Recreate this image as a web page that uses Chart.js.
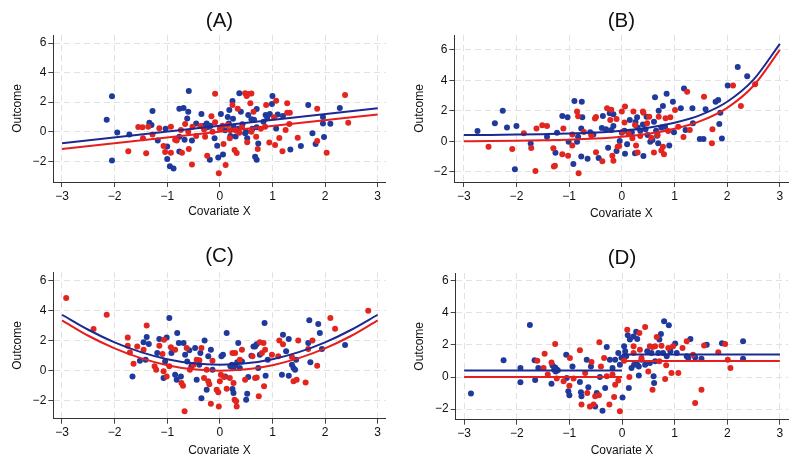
<!DOCTYPE html>
<html lang="en">

<head>
    <meta charset="UTF-8" />
    <title>Outcome vs Covariate X</title>
    <script src="https://cdn.jsdelivr.net/npm/chart.js"></script>
    <style>
        body {
            margin: 0;
            background: #fff;
        }

        #wrap {
            position: relative;
            width: 800px;
            height: 466px;
        }

        #wrap canvas {
            position: absolute;
        }
    </style>
</head>

<body>
    <div id="wrap">
        <canvas id="panelA" width="400" height="233" style="left:0;top:0"></canvas>
        <canvas id="panelB" width="400" height="233" style="left:400px;top:0"></canvas>
        <canvas id="panelC" width="400" height="233" style="left:0;top:233px"></canvas>
        <canvas id="panelD" width="400" height="233" style="left:400px;top:233px"></canvas>
    </div>

    <script>
        // tick labels
        const xTicks = [-3, -2, -1, 0, 1, 2, 3];
        const yTicks = [-2, 0, 2, 4, 6];

        // (A) linear
        const aBlueX = [-2.15, -2.05, -2.05, -1.95, -1.72, -1.34, -1.28, -1.3, -1.18, -1.03, -1.0, -1.0, -0.95, -0.88, -0.77, -0.69, -0.59, -0.62, -0.77, -0.77, -0.67, -0.53, -0.45, -0.35, -0.3, -0.24, -0.2, -0.18, -0.19, -0.1, -0.05, -0.03, 0.02, 0.06, 0.15, 0.18, 0.24, 0.25, 0.26, 0.3, 0.37, 0.4, 0.43, 0.48, 0.52, 0.54, 0.6, 0.65, 0.7, 0.67, 0.7, 0.73, 0.7, 0.83, 0.87, 0.9, 0.99, 1.0, 1.07, 1.1, 1.2, 1.34, 1.54, 1.68, 1.76, 1.82, 1.96, 1.96, 1.98, 2.1, 2.28, 0.1, 0.35, 0.5, -0.25, 0.62, 0.2, 0.95, -0.6, 0.17];
        const aBlueY = [0.8, 2.4, -1.95, -0.05, -0.2, 0.6, 1.4, 0.45, -0.6, 0.2, -1.0, -1.85, -2.35, -2.5, 1.55, 1.6, 2.75, 0.9, -1.35, -0.35, -0.55, -0.6, 0.55, 1.2, 0.4, 0.3, 0.35, 0.4, -1.9, -0.45, -0.95, -1.75, 1.2, -1.55, 1.0, 1.47, 2.08, 0.88, 0.34, -0.33, 2.6, 1.35, 0.5, -0.1, -0.45, 1.13, 0.85, 0.8, 0.3, -1.7, -1.9, -0.8, 1.53, 0.68, 1.13, 0.95, 1.87, 2.42, 0.22, 1.17, 1.06, -1.2, -0.97, 1.8, -0.1, -0.84, 1.0, 0.56, -0.36, 0.54, 1.6, 0.1, 0.2, 0.0, 0.55, 0.2, -0.3, 1.2, 1.35, 0.55];
        const aRedX = [-1.74, -1.55, -1.47, -1.46, -1.4, -1.36, -1.28, -1.15, -1.07, -1.04, -0.93, -0.93, -0.85, -0.82, -0.74, -0.72, -0.66, -0.59, -0.53, -0.52, -0.37, -0.28, -0.24, -0.16, -0.14, -0.09, -0.09, -0.02, 0.07, 0.11, 0.15, 0.19, 0.24, 0.28, 0.32, 0.34, 0.37, 0.48, 0.51, 0.54, 0.6, 0.58, 0.52, 0.64, 0.69, 0.72, 0.88, 0.86, 0.94, 1.03, 1.05, 1.07, 1.13, 1.19, 1.25, 1.28, 1.28, 1.33, 1.32, 1.48, 1.85, 1.85, 2.03, 2.38, 2.44, -0.6, -0.45, 0.0, 0.2, 0.42, 0.6, 0.78, -0.3, 0.05, 0.3];
        const aRedY = [-1.33, 0.32, 0.3, -0.45, -1.47, 0.34, -0.2, 0.23, -0.97, -1.38, 0.34, -1.42, -0.55, -0.6, 0.11, -1.42, 0.52, -1.17, -2.23, 0.34, 0.38, -0.34, -1.63, 1.04, 0.0, 0.63, 2.57, -2.82, -0.84, -2.26, 0.45, -0.45, 1.8, -1.25, -1.45, 1.55, -0.07, 2.6, 2.42, 2.55, 2.58, 1.92, -0.72, 1.35, -0.34, -1.17, 1.8, 0.34, -0.74, 0.97, -0.9, 2.1, -0.43, -1.33, 0.11, 1.92, 1.29, 1.29, 0.52, -0.41, 1.56, -0.63, -1.42, 2.48, 0.61, 0.0, -0.3, 0.2, 0.1, 0.3, 0.0, 0.2, 0.15, 0.4, 0.1];
        const aFitX = [-3, 3];
        const aFitBlue = [-0.78, 1.58];
        const aFitRed = [-1.17, 1.17];

        // (B) exponential
        const bBlueX = [-2.74, -2.41, -2.26, -2.18, -2.0, -2.03, -1.73, -1.42, -1.26, -1.23, -1.13, -1.03, -1.01, -0.92, -0.9, -0.85, -0.83, -0.76, -0.77, -0.75, -0.77, -0.65, -0.54, -0.44, -0.38, -0.36, -0.3, -0.26, -0.23, -0.16, -0.16, -0.1, -0.04, 0.0, 0.06, 0.1, 0.15, 0.19, 0.25, 0.26, 0.29, 0.35, 0.41, 0.47, 0.49, 0.54, 0.58, 0.61, 0.63, 0.67, 0.7, 0.69, 0.78, 0.82, 0.85, 0.9, 0.97, 0.99, 1.12, 1.18, 1.21, 1.34, 1.35, 1.48, 1.55, 1.59, 1.78, 1.83, 1.85, 1.87, 1.9, 2.01, 2.2, 2.38, -0.6, -0.2, 0.05, 0.3, 0.45, 0.65, 0.75, 0.4];
        const bBlueY = [0.68, 1.18, 2.01, 0.9, 1.0, -1.84, -0.15, 0.3, -0.75, 0.57, 1.66, 1.58, -0.02, -1.49, 2.65, -0.02, 0.3, 2.6, 0.85, 1.58, -0.99, -1.14, 0.44, -1.09, 0.88, 1.66, 0.8, -0.42, 1.84, 1.77, 1.0, -0.64, 0.02, 0.57, -0.81, -0.2, 1.4, 0.59, -0.79, 1.27, 1.58, 0.7, -0.96, 1.62, 0.42, -0.02, 0.09, 1.29, 2.89, 0.37, 2.0, -0.13, 2.32, 0.96, 3.13, -0.28, 2.6, 0.59, 2.17, 3.46, 0.74, 2.17, 1.18, 0.15, 0.15, 2.1, 2.6, 2.72, 1.14, 1.88, 0.18, 3.66, 4.88, 4.27, 0.6, 0.75, 0.7, 0.9, 0.8, 0.7, 0.9, 1.1];
        const bRedX = [-2.53, -2.08, -1.86, -1.72, -1.64, -1.62, -1.51, -1.42, -1.3, -1.27, -1.29, -1.13, -1.11, -1.02, -0.94, -0.94, -0.85, -0.83, -0.82, -0.72, -0.58, -0.51, -0.49, -0.49, -0.37, -0.28, -0.2, -0.22, -0.18, -0.16, -0.1, -0.08, -0.05, 0.0, 0.06, 0.05, 0.01, 0.13, 0.22, 0.25, 0.27, 0.3, 0.35, 0.41, 0.48, 0.52, 0.56, 0.61, 0.68, 0.7, 0.78, 0.8, 0.83, 0.88, 0.92, 1.01, 1.07, 1.17, 1.24, 1.29, 1.56, 1.72, 1.71, 2.11, 2.26, 2.53, 0.4, 0.75, 0.2];
        const bRedY = [-0.35, -0.5, 0.53, -0.44, -1.95, 0.85, 1.05, 1.0, -0.46, -1.6, -1.65, -0.85, 0.85, -0.94, 0.44, -0.28, 1.95, 1.64, -2.1, 0.61, 0.39, 1.5, 1.6, -0.72, -1.31, 2.17, 2.08, 1.4, -0.94, -1.27, 1.47, -0.35, -0.3, 1.95, 2.28, 1.23, 0.61, 0.48, 1.95, 1.07, -0.28, -0.74, 0.35, 1.88, 1.18, 1.62, 0.24, -0.74, 0.42, 1.62, -0.35, -0.85, 1.51, 0.68, 1.58, 2.06, 0.96, 0.28, 3.26, 0.74, 2.93, 0.79, -0.13, 3.66, 2.32, 3.74, 1.95, -0.6, 0.2];
        const bFitX = [-3, -2.5, -2, -1.5, -1, -0.5, 0, 0.5, 1, 1.5, 2, 2.5, 3];
        const bFitBlue = [0.41, 0.42, 0.44, 0.47, 0.51, 0.58, 0.7, 0.89, 1.22, 1.74, 2.6, 4.05, 6.4];
        const bFitRed = [0.01, 0.02, 0.04, 0.07, 0.11, 0.18, 0.3, 0.49, 0.82, 1.34, 2.2, 3.65, 6.0];

        // (C) quadratic
        const cBlueX = [-1.66, -1.52, -1.45, -1.39, -1.41, -1.35, -1.19, -1.15, -1.07, -1.04, -1.01, -0.96, -0.92, -0.85, -0.82, -0.81, -0.78, -0.74, -0.69, -0.66, -0.62, -0.58, -0.54, -0.47, -0.44, -0.39, -0.37, -0.35, -0.29, -0.25, -0.22, -0.17, -0.14, 0.03, 0.06, 0.1, 0.13, 0.2, 0.23, 0.26, 0.29, 0.24, 0.26, 0.33, 0.35, 0.38, 0.42, 0.5, 0.52, 0.54, 0.6, 0.64, 0.67, 0.7, 0.73, 0.76, 0.85, 0.87, 0.91, 1.2, 1.18, 1.26, 1.31, 1.31, 1.37, 1.4, 1.43, 1.45, 1.68, 1.7, 1.72, 1.87, 1.9, 1.94, 2.38];
        const cBlueY = [-0.38, 0.67, 1.89, 2.24, 0.73, 1.78, 1.18, 2.11, -0.49, 0.62, 2.22, 3.51, 1.18, -0.27, -0.6, 2.51, 1.84, -0.38, 1.84, 1.07, 0.62, 1.36, 0.29, 1.51, -0.6, 0.4, 1.18, -1.84, 2.02, -1.27, 0.96, 1.4, 0.07, 0.96, 1.07, -0.38, 2.51, 0.3, 0.4, 0.2, 0.35, -1.22, -1.49, 0.56, 1.84, 0.18, 0.62, -1.93, -1.53, -0.42, 1.0, 1.62, 1.62, 1.76, 0.18, 1.07, 3.18, -0.33, 0.73, 2.4, -0.27, 1.29, 2.11, -0.33, 0.4, 0.18, 0.07, 0.73, 1.84, 3.36, 0.56, 3.11, 2.51, 1.44, 1.71];
        const cRedX = [-2.92, -2.4, -2.15, -1.75, -1.75, -1.71, -1.64, -1.57, -1.45, -1.39, -1.24, -1.21, -1.15, -1.09, -1.06, -1.07, -1.01, -0.96, -0.93, -0.85, -0.73, -0.7, -0.67, -0.63, -0.57, -0.5, -0.44, -0.39, -0.35, -0.3, -0.25, -0.22, -0.2, -0.17, -0.14, -0.06, -0.03, -0.02, 0.0, 0.02, 0.08, 0.13, 0.19, 0.24, 0.29, 0.26, 0.28, 0.31, 0.32, 0.38, 0.42, 0.48, 0.62, 0.67, 0.7, 0.74, 0.76, 0.8, 0.83, 0.86, 0.84, 0.99, 1.11, 1.13, 1.2, 1.37, 1.4, 1.46, 1.49, 1.63, 1.68, 1.76, 1.85, 2.1, 2.19, 2.82];
        const cRedY = [4.84, 2.78, 3.73, 2.22, 1.67, 1.22, 0.47, 1.62, 1.4, 3.02, 0.29, 0.07, 1.67, 1.11, 2.07, -0.04, -0.38, 0.29, 1.56, 1.4, -0.82, -1.0, -2.71, 1.51, 0.07, 0.4, 0.73, 0.69, 1.51, -0.49, 0.07, -0.71, -0.9, -2.2, 0.67, -1.27, -1.44, -2.38, -0.71, -0.27, -0.42, -1.2, -0.49, 1.18, 1.18, -0.82, -1.93, -2.04, -2.38, 0.73, 1.4, -0.6, 0.96, -0.49, -0.45, -1.71, 1.89, 1.18, 1.84, 1.4, -1.04, 1.07, 0.96, 2.02, 1.76, 0.91, -0.71, -0.6, 2.02, -0.78, 1.44, 2.02, 0.33, 3.51, 2.8, 4.0];
        const cFitX = [-3, -2.5, -2, -1.5, -1, -0.5, 0, 0.5, 1, 1.5, 2, 2.5, 3];
        const cFitBlue = [3.73, 2.73, 1.89, 1.24, 0.77, 0.49, 0.4, 0.49, 0.77, 1.24, 1.89, 2.73, 3.73];
        const cFitRed = [3.36, 2.33, 1.49, 0.84, 0.37, 0.09, 0.0, 0.09, 0.37, 0.84, 1.49, 2.33, 3.36];

        // (D) step at zero
        const dBlueX = [-2.87, -2.25, -1.93, -1.93, -1.75, -1.66, -1.65, -1.59, -1.34, -1.32, -1.29, -1.27, -1.25, -1.26, -1.22, -1.06, -1.05, -1.02, -1.0, -0.94, -0.8, -0.78, -0.77, -0.67, -0.64, -0.59, -0.51, -0.48, -0.42, -0.37, -0.32, -0.29, -0.23, -0.18, -0.13, -0.07, -0.04, -0.01, 0.01, 0.04, 0.06, 0.08, 0.11, 0.13, 0.15, 0.18, 0.22, 0.23, 0.27, 0.29, 0.29, 0.32, 0.32, 0.37, 0.44, 0.48, 0.53, 0.56, 0.6, 0.61, 0.63, 0.69, 0.71, 0.74, 0.78, 0.8, 0.85, 0.89, 0.92, 1.01, 1.04, 1.23, 1.26, 1.3, 1.39, 1.51, 1.61, 1.9, 2.3, 2.3];
        const dBlueY = [-1.02, 1.04, 0.56, -0.33, 3.24, 1.04, -0.19, 0.56, -0.42, 0.71, 0.45, 0.6, 0.5, 0.35, 0.42, 1.39, -0.06, -0.89, -1.14, 0.66, -0.31, -0.95, -1.2, 1.08, -0.64, 0.66, -1.83, -1.0, 0.0, -2.1, -0.69, 1.87, 1.08, 0.56, 1.08, 1.49, 0.77, 1.2, -1.27, 1.91, 1.6, 1.29, 2.6, -0.69, 2.33, 0.56, 2.53, 0.77, 2.82, 2.37, 0.77, 0.66, 0.1, 1.08, 0.77, 1.6, 0.87, 1.49, 0.04, -0.37, 0.98, 1.49, 2.33, 2.68, 1.49, 3.47, 1.29, 3.22, 1.6, 2.08, 1.49, 1.29, 1.18, 2.37, 1.22, 1.14, 2.01, 2.1, 2.22, 1.14];
        const dRedX = [-1.61, -1.49, -1.47, -1.41, -1.34, -1.27, -1.24, -1.11, -1.0, -0.99, -0.92, -0.8, -0.77, -0.7, -0.66, -0.61, -0.58, -0.54, -0.51, -0.44, -0.43, -0.4, -0.34, -0.29, -0.24, -0.18, -0.15, -0.13, -0.07, -0.04, 0.04, 0.1, 0.14, 0.22, 0.22, 0.33, 0.34, 0.37, 0.44, 0.5, 0.53, 0.58, 0.58, 0.63, 0.66, 0.71, 0.75, 0.82, 0.84, 0.88, 0.94, 0.97, 1.07, 1.15, 1.23, 1.35, 1.39, 1.51, 1.56, 1.83, 1.96, 2.01, 2.06];
        const dRedY = [1.02, 0.56, 1.45, 0.15, 0.91, 2.06, -0.1, -0.27, -0.54, 1.18, -0.1, 1.66, -1.72, 0.25, -1.0, -1.83, 0.93, -1.72, -1.2, -1.14, 2.16, 0.66, 1.18, 0.04, -1.72, 0.15, -1.25, -0.48, -0.21, -2.14, 1.02, 2.95, 0.0, 1.91, 1.49, 2.74, 1.7, 1.18, 3.11, 0.35, 1.91, 1.87, -0.79, 1.91, 2.49, 0.98, 1.95, -0.12, 0.73, 1.81, 0.25, 1.91, 0.25, 1.81, 2.22, 1.39, -1.62, -0.79, 1.97, 1.54, 2.06, 1.08, 0.56];
        const dFitLowX = [-3, 0];
        const dFitHighX = [0, 3];
        const dBlueLow = [0.4, 0.4];
        const dBlueHigh = [1.4, 1.4];
        const dRedLow = [0, 0];
        const dRedHigh = [1, 1];

        const BLUE = "#1f3a9c";
        const RED = "#e2261f";
        const BLUE_LINE = "#1b2a91";
        const RED_LINE = "#e61e1e";

        Chart.defaults.font.family = '"Liberation Sans", Arial, sans-serif';
        Chart.defaults.color = "#111";

        function pts(xs, ys) {
            return xs.map((x, i) => ({ x: x, y: ys[i] }));
        }

        function dots(xs, ys, color) {
            return { data: pts(xs, ys), backgroundColor: color, borderColor: color, borderWidth: 0, pointRadius: 3 };
        }

        function fit(xs, ys, color) {
            return {
                data: pts(xs, ys), showLine: true, borderColor: color, borderWidth: 2,
                pointRadius: 0, cubicInterpolationMode: "monotone"
            };
        }

        const minus = v => String(v).replace("-", "\u2212");

        // geometry of each panel (plot box, title and axis-title positions)
        function panel(id, title, datasets, g) {
            const LH = 20.5 * 1.2;
            new Chart(document.getElementById(id), {
                type: "scatter",
                data: { datasets: datasets },
                options: {
                    responsive: false,
                    animation: false,
                    layout: { padding: { left: 0, right: g.padR, top: 0, bottom: 0 } },
                    plugins: {
                        legend: { display: false },
                        tooltip: { enabled: false },
                        title: {
                            display: true, text: title, fullSize: false, color: "#111",
                            font: { size: 20.5, weight: "normal" },
                            padding: { top: g.titleC - LH / 2, bottom: g.top - g.titleC - LH / 2 }
                        }
                    },
                    scales: {
                        x: {
                            type: "linear", min: g.xMin, max: g.xMax,
                            afterBuildTicks: s => { s.ticks = xTicks.map(v => ({ value: v })); },
                            afterFit: s => { s.height = g.xh; },
                            ticks: { callback: minus, font: { size: 12 }, padding: 2, maxRotation: 0 },
                            grid: { color: "#e2e2e2", tickColor: "#444", tickLength: 5, tickBorderDash: [] },
                            border: { display: true, color: "#333", width: 1, dash: [6, 4] },
                            title: { display: true, text: "Covariate X", font: { size: 12 }, padding: { top: 0, bottom: 233 - g.xTitleC - 7.2 } }
                        },
                        y: {
                            type: "linear", min: g.yMin, max: g.yMax,
                            afterBuildTicks: s => { s.ticks = yTicks.map(v => ({ value: v })); },
                            afterFit: s => { s.width = g.yw; },
                            ticks: { callback: minus, font: { size: 12 }, padding: 2 },
                            grid: { color: "#e2e2e2", tickColor: "#444", tickLength: 5, tickBorderDash: [] },
                            border: { display: true, color: "#333", width: 1, dash: [6, 4] },
                            title: { display: true, text: "Outcome", font: { size: 12 }, padding: { top: g.yTitleC - 7.2, bottom: 0 } }
                        }
                    }
                }
            });
        }

        panel("panelA", "(A)", [
            fit(aFitX, aFitBlue, BLUE_LINE),
            fit(aFitX, aFitRed, RED_LINE),
            dots(aRedX, aRedY, RED),
            dots(aBlueX, aBlueY, BLUE)
        ], { yw: 53.3, padR: 14.3, top: 35, xh: 51, titleC: 21.7, xTitleC: 211.3, yTitleC: 17.3, xMin: -3.165, xMax: 3.152, yMin: -3.41, yMax: 6.55 });

        panel("panelB", "(B)", [
            fit(bFitX, bFitBlue, BLUE_LINE),
            fit(bFitX, bFitRed, RED_LINE),
            dots(bRedX, bRedY, RED),
            dots(bBlueX, bBlueY, BLUE)
        ], { yw: 54.3, padR: 11.7, top: 35, xh: 51, titleC: 21.7, xTitleC: 213.3, yTitleC: 20, xMin: -3.18, xMax: 3.16, yMin: -2.67, yMax: 6.98 });

        panel("panelC", "(C)", [
            fit(cFitX, cFitBlue, BLUE_LINE),
            fit(cFitX, cFitRed, RED_LINE),
            dots(cRedX, cRedY, RED),
            dots(cBlueX, cBlueY, BLUE)
        ], { yw: 53.3, padR: 14.3, top: 39.3, xh: 47.3, titleC: 23.3, xTitleC: 217.3, yTitleC: 17.3, xMin: -3.165, xMax: 3.152, yMin: -3.2, yMax: 6.56 });

        panel("panelD", "(D)", [
            fit(dFitLowX, dBlueLow, BLUE_LINE),
            fit(dFitHighX, dBlueHigh, BLUE_LINE),
            fit(dFitLowX, dRedLow, RED_LINE),
            fit(dFitHighX, dRedHigh, RED_LINE),
            dots(dRedX, dRedY, RED),
            dots(dBlueX, dBlueY, BLUE)
        ], { yw: 55.7, padR: 11.7, top: 40, xh: 46.3, titleC: 25, xTitleC: 217.3, yTitleC: 19.3, xMin: -3.16, xMax: 3.16, yMin: -2.66, yMax: 6.48 });
    </script>
</body>

</html>
